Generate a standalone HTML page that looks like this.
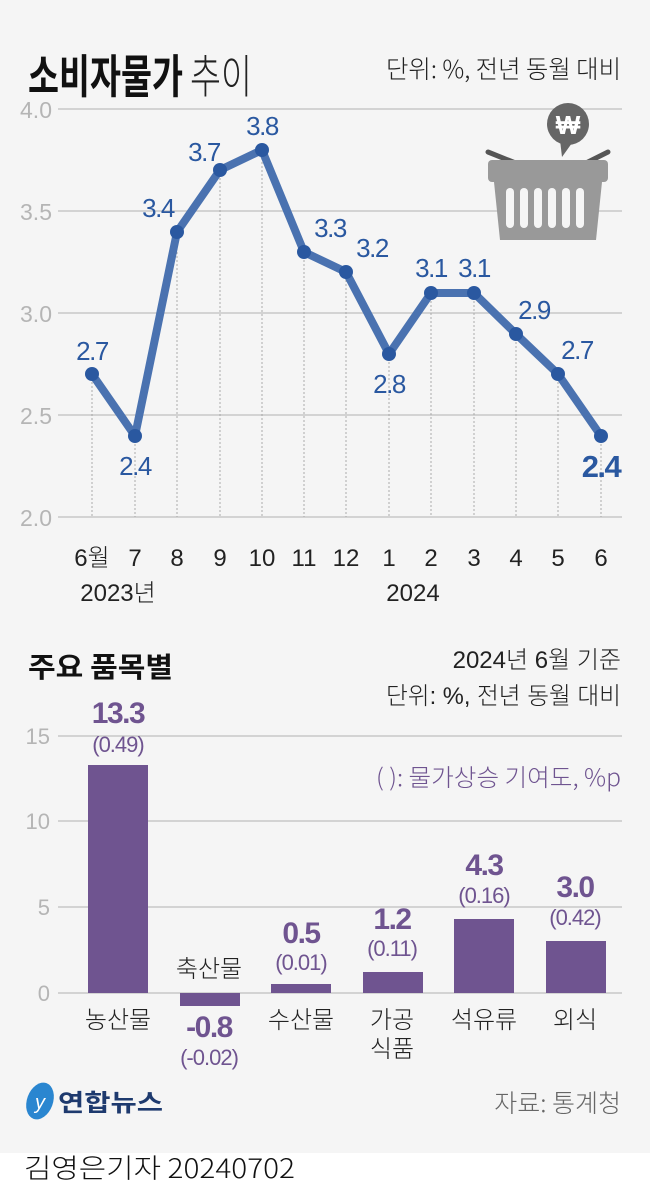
<!DOCTYPE html>
<html><head><meta charset="utf-8"><style>
body{margin:0;width:650px;height:1198px;background:#fff;overflow:hidden}
svg{display:block}
text{font-family:"Liberation Sans","Noto Sans CJK KR",sans-serif}
</style></head><body>
<svg width="650" height="1198" viewBox="0 0 650 1198">
<rect width="650" height="1153" fill="#f5f5f5"/>
<text x="28" y="93" font-size="46" font-weight="bold" fill="#111" textLength="155" lengthAdjust="spacingAndGlyphs" style="font-family:'Noto Sans CJK KR',sans-serif">소비자물가</text>
<text x="190" y="93" font-size="46" fill="#222" textLength="62" lengthAdjust="spacingAndGlyphs" style="font-family:'Noto Sans CJK KR',sans-serif;font-weight:300">추이</text>
<text x="621" y="78" font-size="25" fill="#222" text-anchor="end" textLength="235" lengthAdjust="spacingAndGlyphs" style="font-family:'Noto Sans CJK KR',sans-serif;font-weight:300">단위: %, 전년 동월 대비</text>
<g stroke="#c8c8c8" stroke-width="1.5">
<line x1="58" y1="109" x2="622" y2="109"/><line x1="58" y1="211" x2="622" y2="211"/><line x1="58" y1="313" x2="622" y2="313"/><line x1="58" y1="415" x2="622" y2="415"/><line x1="58" y1="517" x2="622" y2="517"/>
</g>
<g font-size="23" fill="#b5b5b5" text-anchor="end">
<text x="52" y="118">4.0</text><text x="52" y="220">3.5</text><text x="52" y="322">3.0</text><text x="52" y="424">2.5</text><text x="52" y="526">2.0</text>
</g>
<g stroke="#aaa" stroke-width="1" stroke-dasharray="2,2">
<line x1="92" y1="374" x2="92" y2="517"/><line x1="135" y1="436" x2="135" y2="517"/><line x1="177" y1="232" x2="177" y2="517"/><line x1="220" y1="170" x2="220" y2="517"/><line x1="262" y1="150" x2="262" y2="517"/><line x1="304" y1="252" x2="304" y2="517"/><line x1="346" y1="272" x2="346" y2="517"/><line x1="389" y1="354" x2="389" y2="517"/><line x1="431" y1="293" x2="431" y2="517"/><line x1="474" y1="293" x2="474" y2="517"/><line x1="516" y1="334" x2="516" y2="517"/><line x1="558" y1="374" x2="558" y2="517"/><line x1="601" y1="436" x2="601" y2="517"/>
</g>
<polyline points="92,374 135,436 177,232 220,170 262,150 304,252 346,272 389,354 431,293 474,293 516,334 558,374 601,436" fill="none" stroke="#4a72b0" stroke-width="8" stroke-linejoin="round"/>
<g fill="#2a58a0">
<circle cx="92" cy="374" r="7"/><circle cx="135" cy="436" r="7"/><circle cx="177" cy="232" r="7"/><circle cx="220" cy="170" r="7"/><circle cx="262" cy="150" r="7"/><circle cx="304" cy="252" r="7"/><circle cx="346" cy="272" r="7"/><circle cx="389" cy="354" r="7"/><circle cx="431" cy="293" r="7"/><circle cx="474" cy="293" r="7"/><circle cx="516" cy="334" r="7"/><circle cx="558" cy="374" r="7"/><circle cx="601" cy="436" r="7"/>
</g>
<g font-size="26" fill="#2a58a0" text-anchor="middle" letter-spacing="-1.5">
<text x="92" y="360">2.7</text><text x="135" y="475">2.4</text><text x="158" y="217">3.4</text><text x="204" y="161">3.7</text><text x="262" y="135">3.8</text><text x="330" y="237">3.3</text><text x="372" y="257">3.2</text><text x="389" y="393">2.8</text><text x="431" y="277">3.1</text><text x="474" y="277">3.1</text><text x="534" y="319">2.9</text><text x="577" y="359">2.7</text>
<text x="601" y="477" font-size="31" font-weight="bold">2.4</text>
</g>
<g font-size="24" fill="#222" text-anchor="middle" style="font-family:'Noto Sans CJK KR',sans-serif;font-weight:300">
<text x="92" y="566">6월</text><text x="135" y="566">7</text><text x="177" y="566">8</text><text x="220" y="566">9</text><text x="262" y="566">10</text><text x="304" y="566">11</text><text x="346" y="566">12</text><text x="389" y="566">1</text><text x="431" y="566">2</text><text x="474" y="566">3</text><text x="516" y="566">4</text><text x="558" y="566">5</text><text x="601" y="566">6</text>
<text x="118" y="601">2023년</text><text x="413" y="601">2024</text>
</g>
<g>
<circle cx="568" cy="124" r="21" fill="#666"/><path d="M560 140 L562 157 L572 143Z" fill="#666"/>
<text x="568" y="134" font-size="26" font-weight="bold" fill="#fff" text-anchor="middle">₩</text>
<line x1="488" y1="152" x2="533" y2="170" stroke="#555" stroke-width="5" stroke-linecap="round"/>
<line x1="608" y1="152" x2="572" y2="170" stroke="#555" stroke-width="5" stroke-linecap="round"/>
<rect x="488" y="160" width="120" height="22" rx="4" fill="#999"/>
<path d="M494 182 L602 182 L596 240 L500 240Z" fill="#999"/>
<g fill="#f5f5f5"><rect x="506" y="188" width="8" height="40" rx="4"/><rect x="520" y="188" width="8" height="40" rx="4"/><rect x="534" y="188" width="8" height="40" rx="4"/><rect x="548" y="188" width="8" height="40" rx="4"/><rect x="562" y="188" width="8" height="40" rx="4"/><rect x="576" y="188" width="8" height="40" rx="4"/></g>
</g>
<text x="28" y="677" font-size="28" font-weight="bold" fill="#111" textLength="145" lengthAdjust="spacingAndGlyphs" style="font-family:'Noto Sans CJK KR',sans-serif">주요 품목별</text>
<g font-size="24" fill="#222" text-anchor="end" style="font-family:'Noto Sans CJK KR',sans-serif;font-weight:300">
<text x="621" y="668">2024년 6월 기준</text><text x="621" y="704" textLength="235" lengthAdjust="spacingAndGlyphs">단위: %, 전년 동월 대비</text></g>
<text x="621" y="786" font-size="24" fill="#6f5490" text-anchor="end" textLength="245" lengthAdjust="spacingAndGlyphs" style="font-family:'Noto Sans CJK KR',sans-serif;font-weight:300">( ): 물가상승 기여도, %p</text>
<g stroke="#c8c8c8" stroke-width="1.5">
<line x1="58" y1="736" x2="622" y2="736"/><line x1="58" y1="821" x2="622" y2="821"/><line x1="58" y1="907" x2="622" y2="907"/><line x1="58" y1="993" x2="622" y2="993"/></g>
<g font-size="22" fill="#b5b5b5" text-anchor="end"><text x="50" y="744">15</text><text x="50" y="829">10</text><text x="50" y="915">5</text><text x="50" y="1001">0</text></g>
<g fill="#6f5490">
<rect x="88" y="765" width="60" height="228"/><rect x="180" y="993" width="60" height="13"/><rect x="271" y="984" width="60" height="9"/><rect x="363" y="972" width="60" height="21"/><rect x="454" y="919" width="60" height="74"/><rect x="546" y="941" width="60" height="52"/>
</g>
<g fill="#6f5490" text-anchor="middle">
<text x="118" y="723" font-size="30" font-weight="bold" letter-spacing="-1.5">13.3</text><text x="118" y="752" font-size="22" letter-spacing="-1">(0.49)</text>
<text x="209" y="1037" font-size="30" font-weight="bold" letter-spacing="-1.5">-0.8</text><text x="209" y="1065" font-size="22" letter-spacing="-1">(-0.02)</text>
<text x="301" y="943" font-size="30" font-weight="bold" letter-spacing="-1.5">0.5</text><text x="301" y="970" font-size="22" letter-spacing="-1">(0.01)</text>
<text x="392" y="929" font-size="30" font-weight="bold" letter-spacing="-1.5">1.2</text><text x="392" y="956" font-size="22" letter-spacing="-1">(0.11)</text>
<text x="484" y="875" font-size="30" font-weight="bold" letter-spacing="-1.5">4.3</text><text x="484" y="903" font-size="22" letter-spacing="-1">(0.16)</text>
<text x="575" y="897" font-size="30" font-weight="bold" letter-spacing="-1.5">3.0</text><text x="575" y="925" font-size="22" letter-spacing="-1">(0.42)</text>
</g>
<g font-size="24" fill="#222" text-anchor="middle" style="font-family:'Noto Sans CJK KR',sans-serif;font-weight:300">
<text x="118" y="1028">농산물</text><text x="209" y="977">축산물</text><text x="301" y="1028">수산물</text><text x="392" y="1028">가공</text><text x="392" y="1057">식품</text><text x="484" y="1028">석유류</text><text x="575" y="1028">외식</text>
</g>
<ellipse cx="40" cy="1101" rx="13" ry="19" fill="#2a86d0" transform="rotate(20 40 1101)"/>
<text x="40" y="1109" font-size="20" fill="#fff" text-anchor="middle" font-style="italic">y</text>
<text x="58" y="1111" font-size="24" font-weight="bold" fill="#1e3a6e" textLength="105" lengthAdjust="spacingAndGlyphs" style="font-family:'Noto Sans CJK KR',sans-serif">연합뉴스</text>
<text x="621" y="1112" font-size="25" fill="#666" text-anchor="end" style="font-family:'Noto Sans CJK KR',sans-serif;font-weight:300">자료: 통계청</text>
<text x="24" y="1178" font-size="27" fill="#111" textLength="271" lengthAdjust="spacingAndGlyphs" style="font-family:'Noto Sans CJK KR',sans-serif;font-weight:300">김영은기자 20240702</text>
</svg>
</body></html>
